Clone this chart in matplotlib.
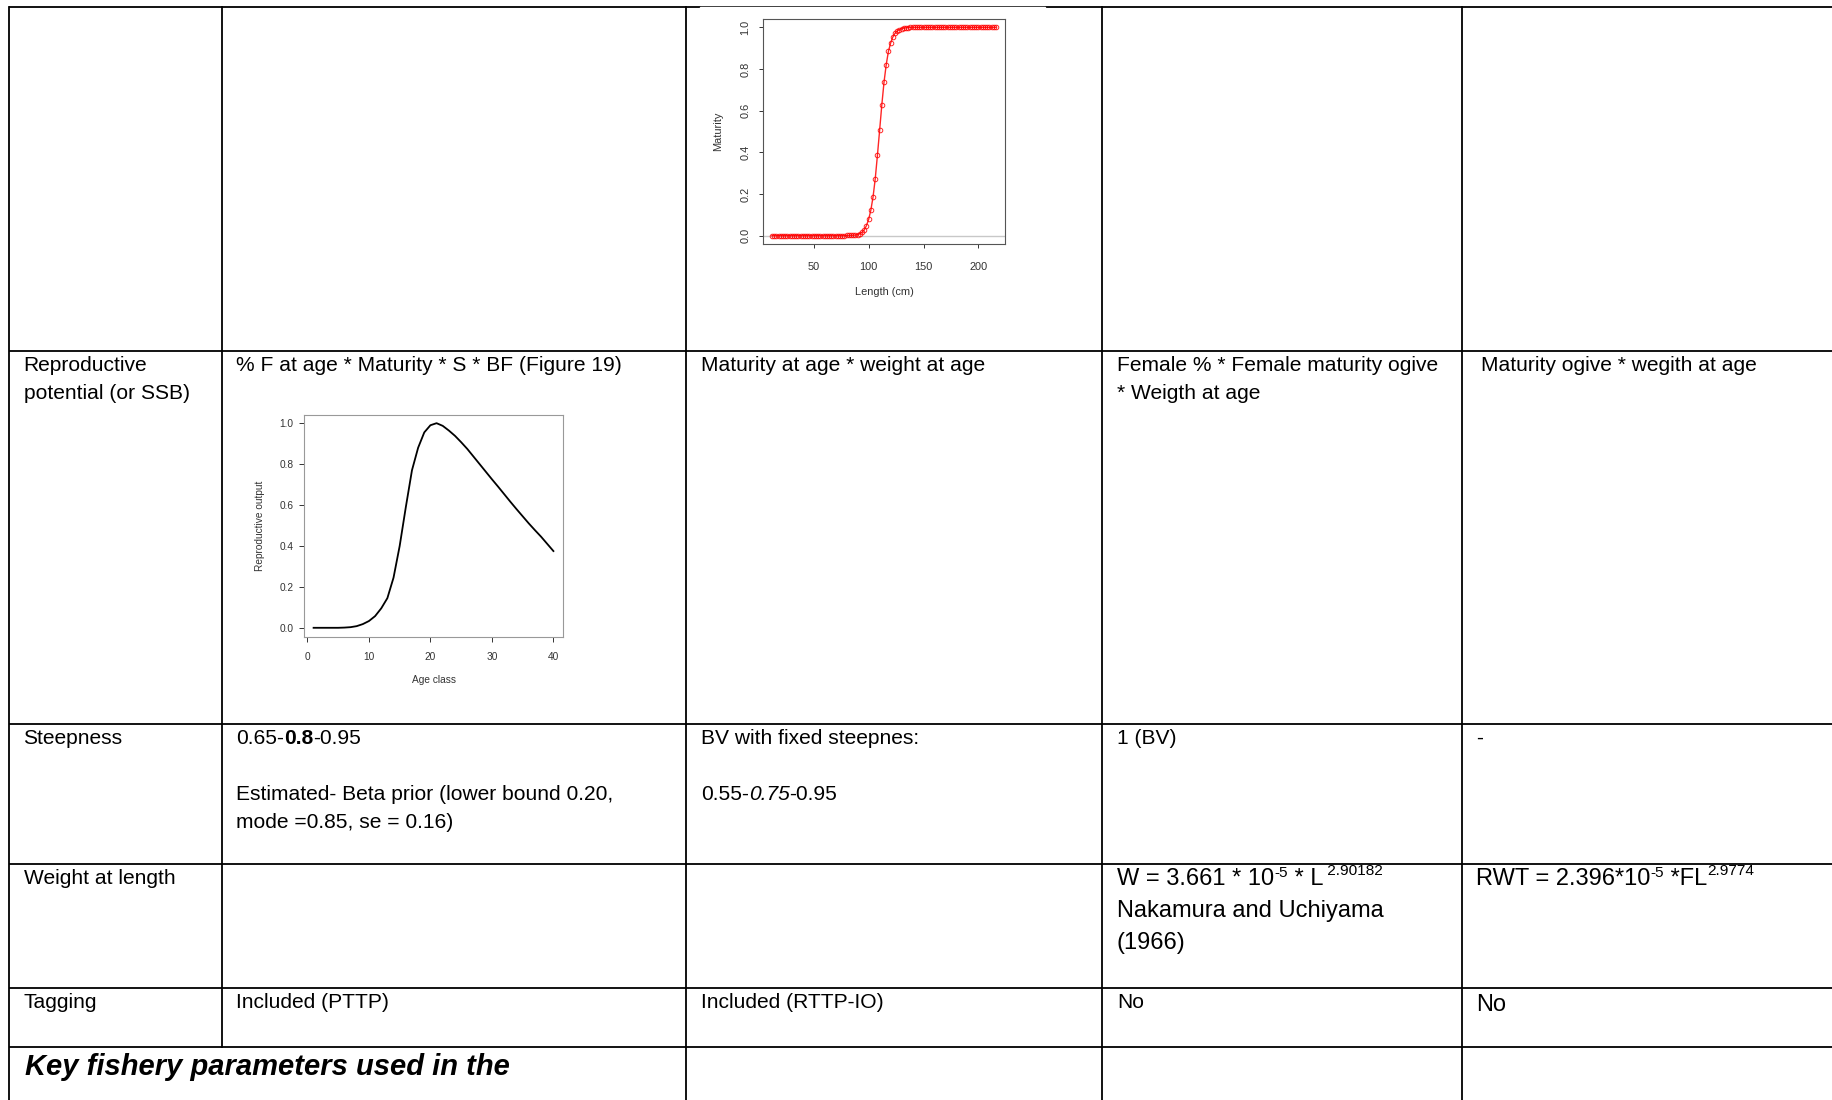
import matplotlib.pyplot as plt
from matplotlib.patches import Rectangle

plt.rcParams['font.family'] = ['Liberation Sans', 'DejaVu Sans']

# maturity ogive by length (inset, top row)
lengths = [12, 14, 16, 18, 20, 22, 24, 26, 28, 30, 32, 34, 36, 38, 40, 42, 44, 46, 48, 50,
           52, 54, 56, 58, 60, 62, 64, 66, 68, 70, 72, 74, 76, 78, 80, 82, 84, 86, 88, 90,
           92, 94, 96, 98, 100, 102, 104, 106, 108, 110, 112, 114, 116, 118, 120, 122, 124,
           126, 128, 130, 132, 134, 136, 138, 140, 142, 144, 146, 148, 150, 152, 154, 156,
           158, 160, 162, 164, 166, 168, 170, 172, 174, 176, 178, 180, 182, 184, 186, 188,
           190, 192, 194, 196, 198, 200, 202, 204, 206, 208, 210, 212, 214, 216]
maturity = [0.0, 0.0, 0.0, 0.0, 0.0, 0.0, 0.0, 0.0, 0.0, 0.0, 0.0, 0.0, 0.0, 0.0, 0.0, 0.0,
            0.0, 0.0, 0.0, 0.0, 0.0, 0.0, 0.0, 0.0, 0.0, 0.0, 0.0, 0.0, 0.0, 0.0, 0.0, 0.0,
            0.0, 0.0, 0.001, 0.001, 0.002, 0.002,
            0.003, 0.005, 0.009, 0.016, 0.028, 0.048, 0.078, 0.122, 0.185, 0.272, 0.385,
            0.505, 0.627, 0.736, 0.82, 0.884, 0.924, 0.953, 0.971, 0.982, 0.989, 0.994,
            0.996, 0.998, 0.999,
            1.0, 1.0, 1.0, 1.0, 1.0, 1.0, 1.0, 1.0, 1.0, 1.0, 1.0, 1.0, 1.0, 1.0, 1.0, 1.0,
            1.0, 1.0, 1.0, 1.0, 1.0, 1.0, 1.0, 1.0, 1.0, 1.0, 1.0, 1.0, 1.0, 1.0, 1.0, 1.0,
            1.0, 1.0, 1.0, 1.0, 1.0, 1.0, 1.0, 1.0]
mat_xticks = [50, 100, 150, 200]
mat_yticks = [0.0, 0.2, 0.4, 0.6, 0.8, 1.0]

# reproductive output by age class (Figure 19)
ages = [1, 2, 3, 4, 5, 6, 7, 8, 9, 10, 11, 12, 13, 14, 15, 16, 17, 18, 19, 20,
        21, 22, 23, 24, 25, 26, 27, 28, 29, 30, 31, 32, 33, 34, 35, 36, 37, 38, 39, 40]
repro = [0.0, 0.0, 0.0, 0.0, 0.0, 0.001, 0.003, 0.008, 0.018, 0.033, 0.057, 0.095, 0.145,
         0.245, 0.40, 0.59, 0.77, 0.88, 0.955, 0.99, 1.0, 0.987, 0.964, 0.938, 0.907,
         0.874, 0.837, 0.80, 0.763, 0.726, 0.69, 0.653, 0.616, 0.58, 0.545, 0.51, 0.477,
         0.445, 0.41, 0.375]
rep_xticks = [0, 10, 20, 30, 40]
rep_yticks = [0.0, 0.2, 0.4, 0.6, 0.8, 1.0]

# table text: (row, col, line, runs, size)
cells = [
    (1, 0, 0, [("Reproductive", "n")], None),
    (1, 0, 1, [("potential (or SSB)", "n")], None),
    (1, 1, 0, [("% F at age * Maturity * S * BF (Figure 19)", "n")], None),
    (1, 2, 0, [("Maturity at age * weight at age", "n")], None),
    (1, 3, 0, [("Female % * Female maturity ogive", "n")], None),
    (1, 3, 1, [("* Weigth at age", "n")], None),
    (2, 0, 0, [("Steepness", "n")], None),
    (2, 1, 0, [("0.65-", "n"), ("0.8", "b"), ("-0.95", "n")], None),
    (2, 1, 2, [("Estimated- Beta prior (lower bound 0.20,", "n")], None),
    (2, 1, 3, [("mode =0.85, se = 0.16)", "n")], None),
    (2, 2, 0, [("BV with fixed steepnes:", "n")], None),
    (2, 2, 2, [("0.55-", "n"), ("0.75", "i"), ("-0.95", "n")], None),
    (2, 3, 0, [("1 (BV)", "n")], None),
    (2, 4, 0, [("-", "n")], None),
    (3, 0, 0, [("Weight at length", "n")], None),
    (4, 0, 0, [("Tagging", "n")], None),
    (4, 1, 0, [("Included (PTTP)", "n")], None),
    (4, 2, 0, [("Included (RTTP-IO)", "n")], None),
    (4, 3, 0, [("No", "n")], None),
]

W, H = 1832, 1100
col_x = [8.5, 222, 686, 1102, 1462]
row_y = [7, 351, 724, 864, 988, 1047]
base_pt = 15.1

fig = plt.figure(figsize=(W / 100, H / 100), dpi=100)
ax = fig.add_axes([0, 0, 1, 1])
ax.set_xlim(0, W)
ax.set_ylim(H, 0)
ax.axis('off')

# table borders
lw = 1.3
for y in row_y:
    ax.plot([col_x[0], W], [y, y], color='black', lw=lw, solid_capstyle='butt')
ax.plot([col_x[0], col_x[0]], [row_y[0], H], color='black', lw=lw)
ax.plot([col_x[1], col_x[1]], [row_y[0], row_y[-1]], color='black', lw=lw)
for x in col_x[2:]:
    ax.plot([x, x], [row_y[0], H], color='black', lw=lw)
# white background of the pasted maturity picture
ax.add_patch(Rectangle((700, 7.4), 345, 290, color='white', zorder=5))


def style(st):
    if st == 'b':
        return {'fontweight': 'bold'}
    if st == 'i':
        return {'fontstyle': 'italic'}
    return {}


def put(x, y, runs, size, rises=None):
    first, st = runs[0]
    base = ax.text(x, y, first, fontsize=size, va='baseline', ha='left', zorder=6, **style(st))
    prev = base
    for s, st in runs[1:]:
        if st == 'sup':
            t = ax.annotate(s, xy=(1, 0), xycoords=(prev, base), xytext=(0, rises.pop(0)),
                            textcoords='offset points', fontsize=size * 0.65,
                            va='bottom', ha='left', zorder=6)
        else:
            t = ax.annotate(s, xy=(1, 0), xycoords=(prev, base), fontsize=size,
                            va='bottom', ha='left', zorder=6, **style(st))
        prev = t


for row, col, line, runs, size in cells:
    dx = 14 if col in (1, 4) else 15
    put(col_x[col] + dx, row_y[row] + 20 + 28 * line, runs, size or base_pt)

put(1481, row_y[1] + 20, [("Maturity ogive * wegith at age", "n")], base_pt)
put(1476, row_y[4] + 23, [("No", "n")], 17)

# weight at length formulas
put(1117, 885, [("W = 3.661 * 10", "n"), ("-5", "sup"), (" * L", "n"), (" 2.90182", "sup")],
    17, rises=[7.3, 8.5])
put(1117, 917, [("Nakamura and Uchiyama", "n")], 17)
put(1117, 949, [("(1966)", "n")], 17)
put(1476, 885, [("RWT = 2.396*10", "n"), ("-5", "sup"), (" *FL", "n"), ("2.9774", "sup")],
    17, rises=[7.3, 8.5])

ax.text(25, 1075, "Key fishery parameters used in the", fontsize=21, fontweight='bold',
        fontstyle='italic', va='baseline', ha='left', zorder=6)


def px_box(x0, y0, x1, y1):
    return [x0 / W, 1 - y1 / H, (x1 - x0) / W, (y1 - y0) / H]


ink = '#333333'

# maturity inset
ax1 = fig.add_axes(px_box(763, 19, 1005, 244))
ax1.axhline(0, color='#c8c8c8', lw=1)
ax1.plot(lengths, maturity, color='red', lw=1, marker='o', mfc='none', ms=3.3, mew=0.7,
         alpha=0.85)
ax1.set_xlim(3.8, 224.2)
ax1.set_ylim(-0.04, 1.04)
ax1.set_xticks(mat_xticks)
ax1.set_xticklabels([str(v) for v in mat_xticks])
ax1.set_yticks(mat_yticks)
ax1.set_yticklabels(['%.1f' % v for v in mat_yticks], rotation=90, va='center')
ax1.tick_params(labelsize=7.9, colors=ink, length=3, width=0.7)
ax1.tick_params(axis='x', pad=10)
ax1.tick_params(axis='y', pad=6)
ax1.set_xlabel('Length (cm)', fontsize=7.9, color=ink)
ax1.set_ylabel('Maturity', fontsize=7.9, color=ink)
ax1.xaxis.set_label_coords(0.5, -0.19)
ax1.yaxis.set_label_coords(-0.165, 0.5)
for sp in ax1.spines.values():
    sp.set_color('#555555')
    sp.set_linewidth(0.8)

# reproductive output inset
ax2 = fig.add_axes(px_box(304, 415, 563, 637))
ax2.plot(ages, repro, color='black', lw=1.3)
ax2.set_xlim(-0.56, 41.56)
ax2.set_ylim(-0.045, 1.04)
ax2.set_xticks(rep_xticks)
ax2.set_xticklabels([str(v) for v in rep_xticks])
ax2.set_yticks(rep_yticks)
ax2.set_yticklabels(['%.1f' % v for v in rep_yticks])
ax2.tick_params(labelsize=7.3, colors=ink, length=3.5, width=0.7)
ax2.tick_params(axis='x', pad=7)
ax2.tick_params(axis='y', pad=4)
ax2.set_xlabel('Age class', fontsize=7.3, color=ink)
ax2.set_ylabel('Reproductive output', fontsize=7.3, color=ink)
ax2.xaxis.set_label_coords(0.5, -0.17)
ax2.yaxis.set_label_coords(-0.15, 0.5)
for sp in ax2.spines.values():
    sp.set_color('#999999')
    sp.set_linewidth(0.8)

fig.savefig('out.png', dpi=100, facecolor='white')
